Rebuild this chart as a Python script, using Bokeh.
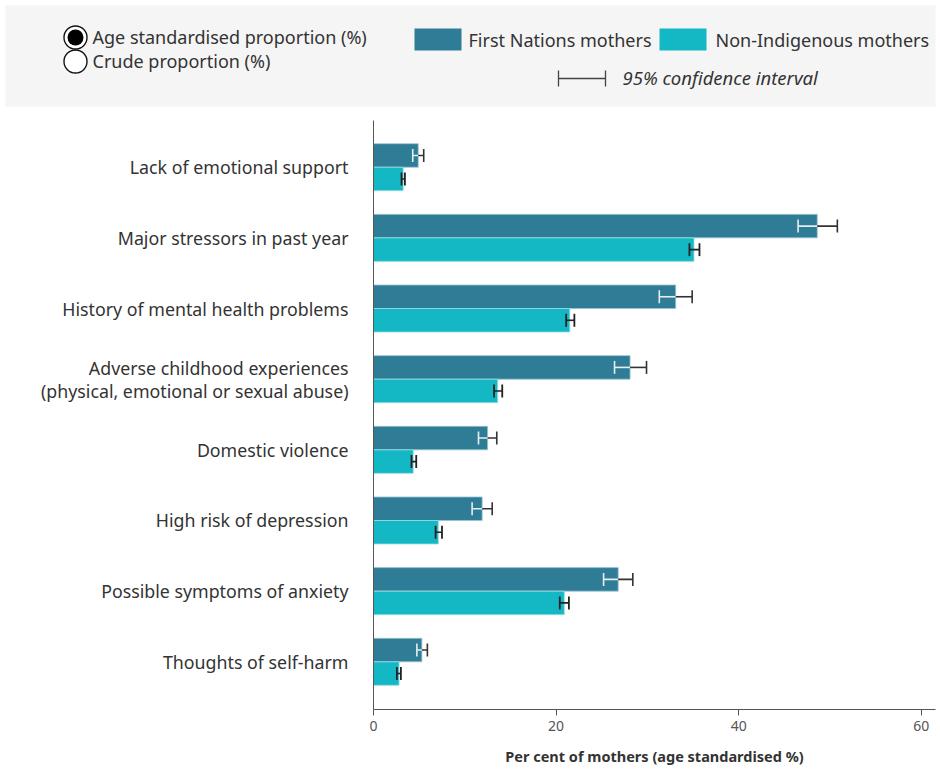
from bokeh.plotting import figure
from bokeh.layouts import column, row
from bokeh.models import Range1d, FixedTicker
from bokeh.core.properties import value
from bokeh.embed import file_html
from bokeh.resources import INLINE

# ---------------- data ----------------
categories = [
    "Lack of emotional support",
    "Major stressors in past year",
    "History of mental health problems",
    "Adverse childhood experiences\n(physical, emotional or sexual abuse)",
    "Domestic violence",
    "High risk of depression",
    "Possible symptoms of anxiety",
    "Thoughts of self-harm",
]
fn_value = [4.9, 48.6, 33.1, 28.1, 12.5, 11.9, 26.8, 5.3]
fn_lower = [4.3, 46.5, 31.3, 26.4, 11.5, 10.8, 25.2, 4.75]
fn_upper = [5.5, 50.8, 34.9, 29.9, 13.5, 13.0, 28.4, 5.9]
ni_value = [3.25, 35.1, 21.5, 13.6, 4.35, 7.1, 20.9, 2.8]
ni_lower = [3.07, 34.6, 21.1, 13.2, 4.16, 6.8, 20.4, 2.56]
ni_upper = [3.44, 35.7, 22.0, 14.1, 4.68, 7.5, 21.4, 3.0]
x_ticks = [0, 20, 40, 60]
series_names = ["First Nations mothers", "Non-Indigenous mothers"]
radio_options = ["Age standardised proportion (%)", "Crude proportion (%)"]
ci_label = "95% confidence interval"
x_title = "Per cent of mothers (age standardised %)"

FN_COLOR = "#2F7C97"
NI_COLOR = "#14B8C4"
DARK = "#333333"
LIGHT = "#E6EEF1"
FONT = "Noto Sans"

# ---------------- top legend panel ----------------
top = figure(width=940, height=115, x_range=Range1d(0, 940), y_range=Range1d(115, 0),
             min_border=0, toolbar_location=None, output_backend="svg")
top.axis.visible = False
top.grid.visible = False
top.outline_line_color = None
top.background_fill_color = "white"
top.border_fill_color = "white"
top.quad(left=[5], right=[935], top=[5], bottom=[106], fill_color="#F5F5F5", line_color=None)

# radio buttons
top.scatter(x=[75, 75], y=[37, 61], size=23, fill_color="white", line_color="#111111", line_width=1.4)
top.scatter(x=[75], y=[37], size=16, fill_color="black", line_color=None)
top.text(x=[92, 92], y=[36, 60], text=radio_options, text_font=value(FONT), text_font_size="18px",
         text_color=DARK, text_baseline="middle")

# series legend
top.quad(left=[414, 659], right=[461, 706], top=[28, 28], bottom=[50, 50],
         fill_color=[FN_COLOR, NI_COLOR], line_color=None)
top.text(x=[468, 715], y=[39, 39], text=series_names, text_font=value(FONT), text_font_size="18px",
         text_color=DARK, text_baseline="middle")

# CI legend
top.segment(x0=[558, 558, 605], y0=[78, 70, 70], x1=[605, 558, 605], y1=[78, 86, 86],
            line_color="#444444", line_width=1.3)
top.text(x=[622], y=[77], text=[ci_label], text_font=value(FONT), text_font_size="18.5px",
         text_font_style="italic", text_color=DARK, text_baseline="middle")

# ---------------- main chart ----------------
n = len(categories)
ys = list(range(n))
bar_h = 0.333
off = bar_h / 2
fn_y = [y - off for y in ys]
ni_y = [y + off for y in ys]
cap = 0.092

p = figure(width=940, height=654, x_range=Range1d(0, 61.55), y_range=Range1d(7.675, -0.661),
           toolbar_location=None, output_backend="svg",
           min_border_left=373, min_border_right=5, min_border_top=5, min_border_bottom=60)
p.grid.visible = False
p.outline_line_color = None
p.background_fill_color = "white"
p.border_fill_color = "white"

p.hbar(y=fn_y, left=0, right=fn_value, height=bar_h, fill_color=FN_COLOR,
       line_color="#9CC6D3", line_width=0.8)
p.hbar(y=ni_y, left=0, right=ni_value, height=bar_h, fill_color=NI_COLOR,
       line_color="#9ADDE3", line_width=0.8)

# First Nations error bars: inside part light, outside part dark
p.segment(x0=fn_lower, y0=fn_y, x1=fn_value, y1=fn_y, line_color=LIGHT, line_width=1.6)
p.segment(x0=fn_lower, y0=[y - cap for y in fn_y], x1=fn_lower, y1=[y + cap for y in fn_y],
          line_color=LIGHT, line_width=1.6)
p.segment(x0=fn_value, y0=fn_y, x1=fn_upper, y1=fn_y, line_color=DARK, line_width=1.6)
p.segment(x0=fn_upper, y0=[y - cap for y in fn_y], x1=fn_upper, y1=[y + cap for y in fn_y],
          line_color=DARK, line_width=1.6)

# Non-Indigenous error bars: dark
p.segment(x0=ni_lower, y0=ni_y, x1=ni_upper, y1=ni_y, line_color="#222222", line_width=1.6)
p.segment(x0=ni_lower, y0=[y - cap for y in ni_y], x1=ni_lower, y1=[y + cap for y in ni_y],
          line_color="#222222", line_width=1.8)
p.segment(x0=ni_upper, y0=[y - cap for y in ni_y], x1=ni_upper, y1=[y + cap for y in ni_y],
          line_color="#222222", line_width=1.8)

# y axis
p.yaxis.ticker = FixedTicker(ticks=ys)
p.yaxis.major_label_overrides = {i: c for i, c in enumerate(categories)}
p.yaxis.major_tick_line_color = None
p.yaxis.minor_tick_line_color = None
p.yaxis.major_label_standoff = 19
p.yaxis.axis_line_color = "#555555"
p.yaxis.major_label_text_font = FONT
p.yaxis.major_label_text_font_size = "17.8px"
p.yaxis.major_label_text_line_height = 0.95
p.yaxis.major_label_text_color = DARK

# x axis
p.xaxis.ticker = FixedTicker(ticks=x_ticks)
p.xaxis.major_tick_out = 6
p.xaxis.major_tick_in = 0
p.xaxis.minor_tick_line_color = None
p.xaxis.axis_line_color = "#555555"
p.xaxis.major_tick_line_color = "#555555"
p.xaxis.major_label_text_font = FONT
p.xaxis.major_label_text_font_size = "14px"
p.xaxis.major_label_text_color = "#555555"
p.xaxis.axis_label = x_title
p.xaxis.axis_label_text_font = FONT
p.xaxis.axis_label_text_font_size = "14.5px"
p.xaxis.axis_label_text_font_style = "bold"
p.xaxis.axis_label_text_color = DARK
p.xaxis.axis_label_standoff = 12

layout = column(row(top), row(p), spacing=0)
open("out.html", "w").write(file_html(layout, INLINE))
